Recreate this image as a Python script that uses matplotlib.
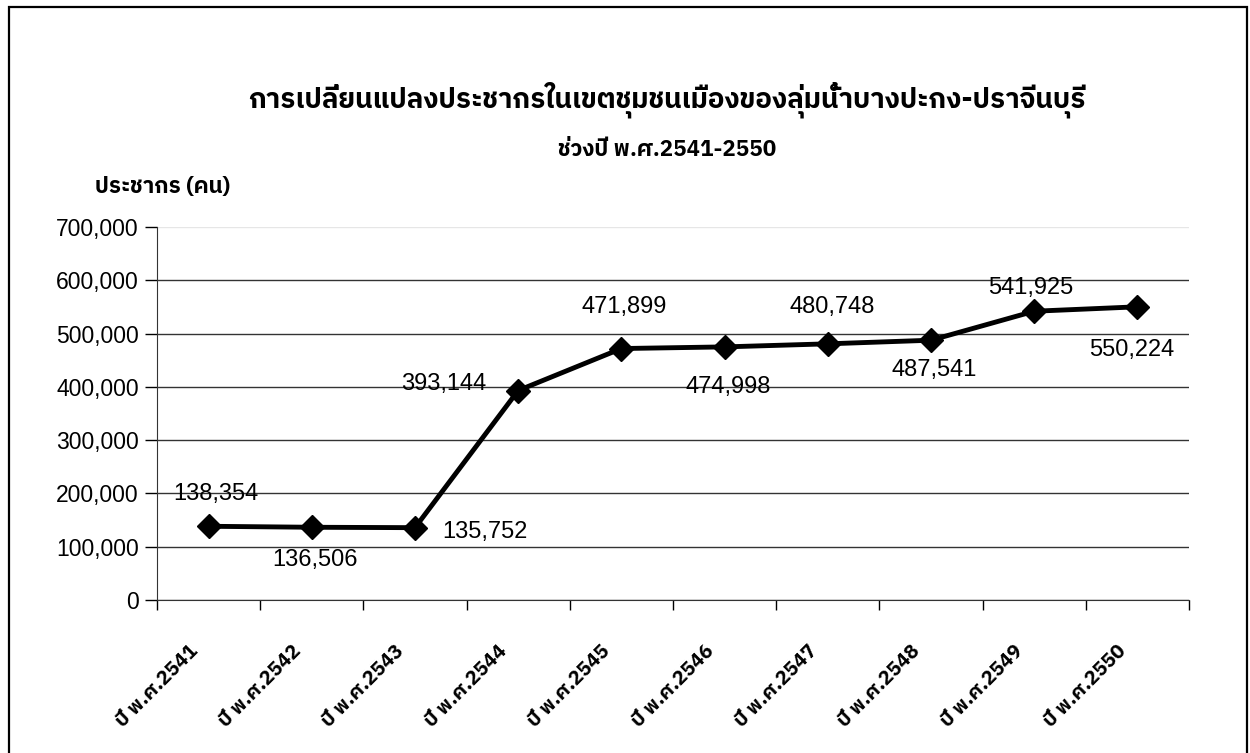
import matplotlib
matplotlib.use("Agg")
import matplotlib.pyplot as plt
from matplotlib import font_manager
from matplotlib.ticker import FuncFormatter, FixedLocator
from matplotlib.patches import Rectangle

# ── Data ──
years = ["ปี พ.ศ.2541", "ปี พ.ศ.2542", "ปี พ.ศ.2543", "ปี พ.ศ.2544", "ปี พ.ศ.2545",
         "ปี พ.ศ.2546", "ปี พ.ศ.2547", "ปี พ.ศ.2548", "ปี พ.ศ.2549", "ปี พ.ศ.2550"]
population = [138354, 136506, 135752, 393144, 471899,
              474998, 480748, 487541, 541925, 550224]
# label offsets in pixels (dx, dy) relative to each point
label_offsets = [(7, 32), (3, -33), (70, -4), (-74, 7), (3, 42),
                 (4, -40), (4, 37), (3, -30), (-3, 23), (-6, -43)]

title = "การเปลี่ยนแปลงประชากรในเขตชุมชนเมืองของลุ่มน้ำบางปะกง-ปราจีนบุรี"
subtitle = "ช่วงปี พ.ศ.2541-2550"
ylabel = "ประชากร (คน)"

# ── Fonts: find anything that can draw Thai ──
names = sorted({f.name for f in font_manager.fontManager.ttflist})
thai = [n for n in names if "thai" in n.lower() or n in ("Loma", "Garuda", "Kinnari", "Norasi", "Waree", "Sawasdee", "Umpush", "Laksaman", "TlwgTypo")]
thai_fam = thai + ["Noto Sans", "DejaVu Sans"]
num_fam = ["Liberation Sans", "DejaVu Sans"]
plt.rcParams["font.family"] = thai_fam

fig = plt.figure(figsize=(12.5, 7.53), dpi=100)
ax = fig.add_axes([157 / 1250, 1 - 600 / 753, (1189 - 157) / 1250, (600 - 227) / 753])

x = list(range(len(years)))
ax.plot(x, population, color="black", lw=3.5, marker="D", markersize=12,
        markerfacecolor="black", markeredgecolor="black", zorder=4)

for xi, v, (dx, dy) in zip(x, population, label_offsets):
    ax.annotate(f"{v:,}", (xi, v), xytext=(dx, dy), textcoords="offset pixels",
                ha="center", va="center", fontsize=17, family=num_fam, zorder=5)

ax.set_xlim(-0.5, len(years) - 0.5)
ax.set_ylim(0, 700000)
ax.yaxis.set_major_locator(FixedLocator(range(0, 700001, 100000)))
ax.yaxis.set_major_formatter(FuncFormatter(lambda v, p: f"{int(v):,}"))
for t in ax.get_yticklabels():
    t.set_family(num_fam)
ax.tick_params(axis="y", labelsize=16.5, length=9, width=1, direction="out", pad=4)

# category labels, nudged left so the rotated text ends just before the centre
ax.set_xticks([xi - 0.2 for xi in x])
ax.set_xticklabels(years, rotation=45, ha="right", va="top", rotation_mode="anchor",
                   fontsize=14.5, fontweight="bold")
ax.tick_params(axis="x", length=0, pad=30)
ax.set_xticks([i - 0.5 for i in range(len(years) + 1)], minor=True)
ax.tick_params(axis="x", which="minor", length=7, width=1, direction="out")

ax.grid(axis="y", color="#333333", lw=1)
for gl, val in zip(ax.yaxis.get_gridlines(), range(0, 700001, 100000)):
    if val == 700000:
        gl.set_color("#e6e6e6")
ax.spines["top"].set_visible(False)
ax.spines["right"].set_visible(False)
ax.spines["left"].set_color("#333333")
ax.spines["bottom"].set_color("#333333")
ax.set_axisbelow(True)

fig.text(667 / 1250, 1 - 100 / 753, title, ha="center", va="center",
         fontsize=20, fontweight="bold")
fig.text(667 / 1250, 1 - 150 / 753, subtitle, ha="center", va="center",
         fontsize=16, fontweight="bold")
fig.text(95 / 1250, 1 - 186 / 753, ylabel, ha="left", va="center",
         fontsize=16, fontweight="bold")

# outer frame like the chart area border
fig.patches.append(Rectangle((9 / 1250, -0.05), (1247 - 9) / 1250, 1.05 - 7 / 753,
                             transform=fig.transFigure, fill=False,
                             edgecolor="black", lw=1.6))

fig.savefig("out.png", dpi=100)
